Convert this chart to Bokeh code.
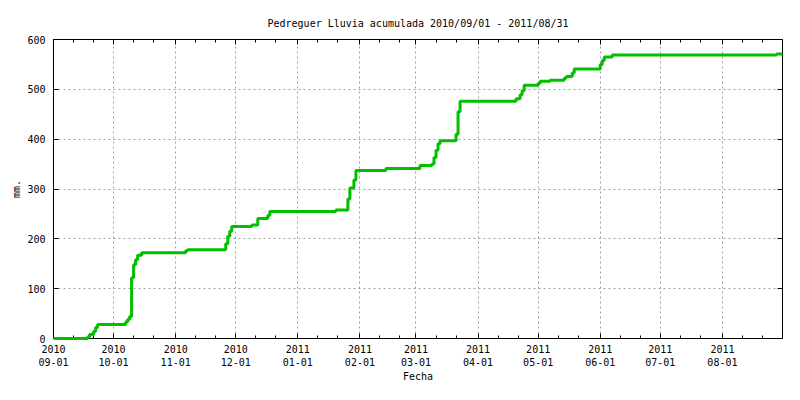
import pandas as pd
from bokeh.plotting import figure
from bokeh.models import (ColumnDataSource, DatetimeAxis, LinearAxis, FixedTicker,
                          Range1d)
from bokeh.embed import file_html
from bokeh.resources import INLINE

# ---- data: dates where the accumulated rainfall changes, and the running total (mm)
dates = ["2010-09-01", "2010-09-18", "2010-09-19", "2010-09-21", "2010-09-22", "2010-09-23",
         "2010-10-07", "2010-10-08", "2010-10-09", "2010-10-10", "2010-10-11", "2010-10-12",
         "2010-10-13", "2010-10-15", "2010-11-06", "2010-11-07", "2010-11-26", "2010-11-27",
         "2010-11-28", "2010-11-29", "2010-12-09", "2010-12-12", "2010-12-17", "2010-12-18",
         "2011-01-20", "2011-01-26", "2011-01-27", "2011-01-29", "2011-01-30", "2011-02-14",
         "2011-03-03", "2011-03-09", "2011-03-10", "2011-03-11", "2011-03-12", "2011-03-13",
         "2011-03-21", "2011-03-22", "2011-03-23", "2011-04-20", "2011-04-22", "2011-04-23",
         "2011-04-24", "2011-05-01", "2011-05-02", "2011-05-07", "2011-05-14", "2011-05-15",
         "2011-05-18", "2011-05-19", "2011-06-01", "2011-06-02", "2011-06-03", "2011-06-07",
         "2011-08-28", "2011-08-31"]
rain_mm = [0, 3, 8, 14, 22, 28,
           33, 38, 44, 122, 148, 158,
           167, 172, 176, 178, 190, 205,
           215, 225, 228, 241, 247, 255,
           258, 280, 302, 318, 337, 341,
           347, 350, 363, 378, 391, 397,
           410, 455, 476, 481, 489, 497,
           508, 512, 516, 518, 522, 526,
           533, 541, 550, 558, 565, 569,
           571, 571]

x_tick_dates = ["2010-09-01", "2010-10-01", "2010-11-01", "2010-12-01", "2011-01-01",
                "2011-02-01", "2011-03-01", "2011-04-01", "2011-05-01", "2011-06-01",
                "2011-07-01", "2011-08-01"]
x_tick_labels = ["2010\n09-01", "2010\n10-01", "2010\n11-01", "2010\n12-01", "2011\n01-01",
                 "2011\n02-01", "2011\n03-01", "2011\n04-01", "2011\n05-01", "2011\n06-01",
                 "2011\n07-01", "2011\n08-01"]
x_minor_dates = [d[:8] + dd for d in x_tick_dates for dd in ("11", "21")]
y_ticks = [0, 100, 200, 300, 400, 500, 600]

title_text = "Pedreguer Lluvia acumulada 2010/09/01 - 2011/08/31"
x_label = "Fecha"
y_label = "mm."

FONT = "DejaVu Sans Mono"
GREEN = "#00c000"


def ms(d):
    return pd.Timestamp(d).value / 1e6


src = ColumnDataSource(dict(date=pd.to_datetime(dates), mm=rain_mm))

p = figure(width=784, height=384, x_axis_type="datetime",
           x_range=Range1d(ms("2010-09-01"), ms("2011-08-31")),
           y_range=Range1d(0, 600),
           output_backend="svg", toolbar_location=None,
           min_border_left=53, min_border_right=2,
           min_border_top=39, min_border_bottom=44)

p.background_fill_color = "white"
p.border_fill_color = "white"
p.outline_line_color = "black"
p.outline_line_width = 1

# title
p.title.text = title_text
p.title.text_font = FONT
p.title.text_font_size = "10px"
p.title.text_font_style = "normal"
p.title.text_color = "black"
p.title.align = "center"
p.title.offset = -5
p.title.standoff = 22

xticker = FixedTicker(ticks=[ms(d) for d in x_tick_dates],
                      minor_ticks=[ms(d) for d in x_minor_dates])
yticker = FixedTicker(ticks=y_ticks, minor_ticks=[])

overrides = {ms(d): lab for d, lab in zip(x_tick_dates, x_tick_labels)}


def style_axis(ax, labels=True):
    ax.axis_line_color = "black"
    ax.axis_line_width = 1
    ax.major_tick_in = 5
    ax.major_tick_out = 0
    ax.minor_tick_in = 3
    ax.minor_tick_out = 0
    ax.major_tick_line_color = "black"
    ax.minor_tick_line_color = "black"
    ax.major_label_text_font = FONT
    ax.major_label_text_font_size = "10px"
    ax.major_label_text_color = "black"
    ax.axis_label_text_font = FONT
    ax.axis_label_text_font_size = "10px"
    ax.axis_label_text_font_style = "normal"
    ax.axis_label_text_color = "black"
    if not labels:
        ax.major_label_text_font_size = "0px"
        ax.major_label_text_color = None
        ax.major_label_standoff = 0


# bottom x axis
xa = p.xaxis[0]
xa.ticker = xticker
xa.major_label_overrides = overrides
style_axis(xa)
xa.major_label_standoff = 5
xa.axis_label = x_label
xa.axis_label_standoff = 0

# left y axis
ya = p.yaxis[0]
ya.ticker = yticker
style_axis(ya)
ya.minor_tick_line_color = None
ya.major_label_standoff = 8
ya.axis_label = y_label
ya.axis_label_standoff = 2

# top and right mirror axes (ticks only)
top = DatetimeAxis(ticker=xticker)
style_axis(top, labels=False)
p.add_layout(top, "above")

right = LinearAxis(ticker=yticker)
style_axis(right, labels=False)
right.minor_tick_line_color = None
p.add_layout(right, "right")

# grid
p.xgrid.ticker = xticker
p.ygrid.ticker = yticker
for g in (p.xgrid[0], p.ygrid[0]):
    g.grid_line_color = "#a0a0a0"
    g.grid_line_dash = "2 3"
    g.grid_line_width = 1

p.step(x="date", y="mm", source=src, mode="after",
       line_color=GREEN, line_width=3, level="overlay")

open("out.html", "w").write(file_html(p, INLINE))
